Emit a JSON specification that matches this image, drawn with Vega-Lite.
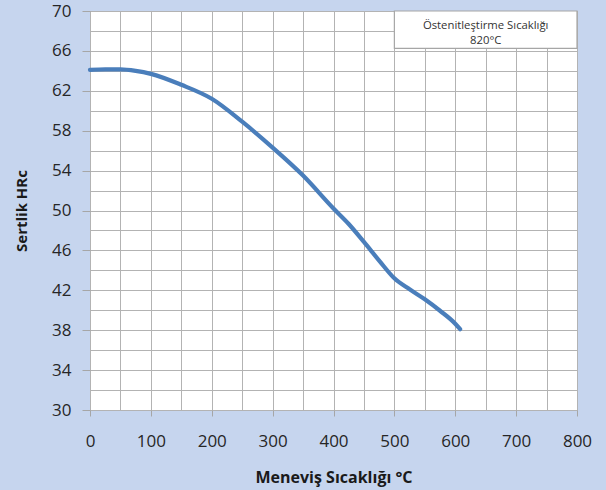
{
  "$schema": "https://vega.github.io/schema/vega-lite/v6.json",
  "width": 487,
  "height": 399,
  "autosize": {"type": "none"},
  "padding": {"left": 90, "top": 11, "right": 29, "bottom": 80},
  "background": "#c6d5ee",
  "config": {
    "view": {"fill": "white", "stroke": "#a6a6a6", "strokeWidth": 1},
    "font": "Open Sans"
  },
  "datasets": {
    "curve": [
      {"temp": 0, "hrc": 64.1},
      {"temp": 25, "hrc": 64.15},
      {"temp": 50, "hrc": 64.15},
      {"temp": 75, "hrc": 64.0},
      {"temp": 100, "hrc": 63.7},
      {"temp": 150, "hrc": 62.6},
      {"temp": 200, "hrc": 61.2},
      {"temp": 250, "hrc": 58.9},
      {"temp": 300, "hrc": 56.3},
      {"temp": 350, "hrc": 53.5},
      {"temp": 400, "hrc": 50.2},
      {"temp": 425, "hrc": 48.65},
      {"temp": 450, "hrc": 46.85},
      {"temp": 476, "hrc": 44.9},
      {"temp": 500, "hrc": 43.2},
      {"temp": 525, "hrc": 42.1},
      {"temp": 550, "hrc": 41.1},
      {"temp": 575, "hrc": 39.95},
      {"temp": 600, "hrc": 38.65},
      {"temp": 608, "hrc": 38.1}
    ],
    "note": [
      {"x0": 500, "x1": 800, "y0": 66.26, "y1": 70}
    ],
    "noteText": [
      {"tx": 650, "ty": 68.5, "label": "Östenitleştirme Sıcaklığı"},
      {"tx": 650, "ty": 66.95, "label": "820°C"}
    ]
  },
  "layer": [
    {
      "data": {"name": "curve"},
      "mark": {"type": "line", "color": "#4a7ebb", "strokeWidth": 4.2, "interpolate": "monotone", "strokeCap": "round"},
      "encoding": {
        "x": {
          "field": "temp", "type": "quantitative",
          "scale": {"domain": [0, 800], "nice": false},
          "axis": {
            "title": "Meneviş Sıcaklığı °C",
            "values": [0, 50, 100, 150, 200, 250, 300, 350, 400, 450, 500, 550, 600, 650, 700, 750, 800],
            "tickCount": 100,
            "format": "d",
            "labelExpr": "datum.value % 100 === 0 ? datum.label : ''",
            "grid": true,
            "gridColor": "#b3b3b3",
            "gridWidth": 1,
            "gridOpacity": 1,
            "domain": false,
            "tickSize": 6,
            "tickColor": "#a6a6a6",
            "tickOpacity": {"condition": {"test": "datum.value % 100 !== 0", "value": 0}, "value": 1},
            "labelFontSize": 17,
            "labelColor": "#262626",
            "labelBaseline": "middle",
            "labelPadding": 25,
            "labelFlush": false,
            "labelOverlap": false,
            "titleFontSize": 16,
            "titleFontWeight": "bold",
            "titleColor": "#1a1a1a",
            "titleBaseline": "middle",
            "titleY": 67
          }
        },
        "y": {
          "field": "hrc", "type": "quantitative",
          "scale": {"domain": [30, 70], "nice": false, "zero": false},
          "axis": {
            "title": "Sertlik HRc",
            "values": [30, 32, 34, 36, 38, 40, 42, 44, 46, 48, 50, 52, 54, 56, 58, 60, 62, 64, 66, 68, 70],
            "tickCount": 100,
            "format": "d",
            "labelExpr": "(datum.value - 30) % 4 === 0 ? datum.label : ''",
            "grid": true,
            "gridColor": "#b3b3b3",
            "gridWidth": 1,
            "gridOpacity": 1,
            "domain": false,
            "tickSize": 8,
            "tickColor": "#a6a6a6",
            "tickOpacity": {"condition": {"test": "(datum.value - 30) % 4 !== 0", "value": 0}, "value": 1},
            "labelFontSize": 17,
            "labelColor": "#262626",
            "labelPadding": 11,
            "labelFlush": false,
            "labelOverlap": false,
            "titleFontSize": 15,
            "titleFontWeight": "bold",
            "titleColor": "#1a1a1a",
            "titleBaseline": "middle",
            "titleX": -69
          }
        }
      }
    },
    {
      "data": {"name": "note"},
      "mark": {"type": "rect", "fill": "white", "stroke": "#a6a6a6", "strokeWidth": 1.2},
      "encoding": {
        "x": {"field": "x0", "type": "quantitative"},
        "x2": {"field": "x1"},
        "y": {"field": "y0", "type": "quantitative"},
        "y2": {"field": "y1"}
      }
    },
    {
      "data": {"name": "noteText"},
      "mark": {"type": "text", "fontSize": 11.3, "color": "#333333", "align": "center", "baseline": "middle"},
      "encoding": {
        "x": {"field": "tx", "type": "quantitative"},
        "y": {"field": "ty", "type": "quantitative"},
        "text": {"field": "label"}
      }
    }
  ]
}
